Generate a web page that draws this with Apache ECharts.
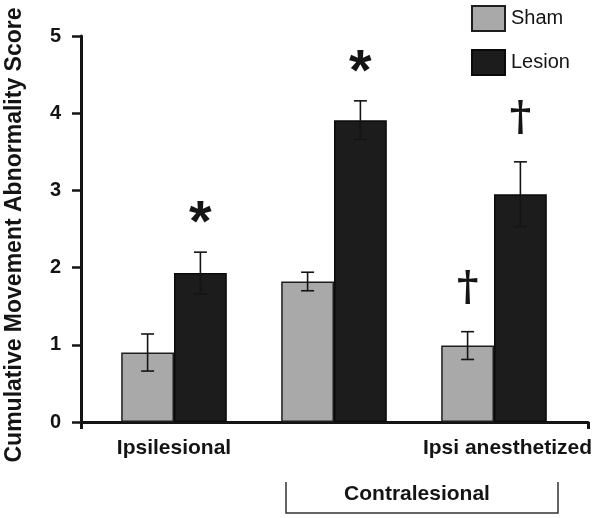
<!DOCTYPE html>
<html>
<head>
<meta charset="utf-8">
<script src="https://cdn.jsdelivr.net/npm/echarts@6/dist/echarts.min.js"></script>
<style>html,body{margin:0;padding:0;background:#fff;}#c{width:600px;height:518px;}</style>
</head>
<body>
<div id="c"></div>
<script>
const categories = ['Ipsilesional', '', 'Ipsi anesthetized'];
const seriesNames = ['Sham', 'Lesion'];
const shamMean = [0.90, 1.82, 0.99];
const shamErr = [0.24, 0.12, 0.18];
const lesionMean = [1.93, 3.91, 2.95];
const lesionErr = [0.27, 0.25, 0.42];
const shamMarks = ['', '', '\u2020'];
const lesionMarks = ['*', '*', '\u2020'];
const yTickLabels = ['0', '1', '2', '3', '4', '5'];
const groupLabel = 'Contralesional';
const yTitle = 'Cumulative Movement Abnormality Score';

const GAP = 0.34;
const INK = '#141414';

function errRender(side, marks) {
  return function (params, api) {
    const ci = api.value(0), mean = api.value(1), err = api.value(2);
    const band = api.size([1, 0])[0];
    const barW = band * (1 - GAP) / 2;
    const c = api.coord([ci, mean]);
    const x = c[0] + side * barW / 2;
    const top = api.coord([ci, mean + err])[1];
    const bot = api.coord([ci, mean - err])[1];
    const cap = 6.5;
    const st = { stroke: INK, lineWidth: 1.6 };
    const ch = [
      { type: 'line', shape: { x1: x, y1: top, x2: x, y2: bot }, style: st },
      { type: 'line', shape: { x1: x - cap, y1: top, x2: x + cap, y2: top }, style: st },
      { type: 'line', shape: { x1: x - cap, y1: bot, x2: x + cap, y2: bot }, style: st }
    ];
    const m = marks[params.dataIndex];
    if (m === '*') {
      ch.push({ type: 'text', style: { text: m, x: x, y: top - 36 + 9, align: 'center', verticalAlign: 'middle',
        font: 'bold 58px "Liberation Sans", Arial, sans-serif', fill: INK } });
    } else if (m) {
      ch.push({ type: 'text', style: { text: m, x: x, y: top - 22, align: 'center', verticalAlign: 'bottom',
        font: 'bold 41px "DejaVu Serif", serif', fill: INK } });
    }
    return { type: 'group', children: ch };
  };
}

const chart = echarts.init(document.getElementById('c'), null, { renderer: 'canvas' });
chart.setOption({
  animation: false,
  backgroundColor: '#fff',
  textStyle: { fontFamily: '"Liberation Sans", Arial, sans-serif' },
  legend: {
    data: seriesNames,
    orient: 'vertical',
    left: 471, top: 5, padding: 0,
    itemWidth: 33, itemHeight: 25, itemGap: 17,
    icon: 'rect',
    textStyle: { fontSize: 20, color: INK, padding: [0, 0, 0, 1] }
  },
  grid: [
    { left: 94, right: 26, top: 36, bottom: 96 },
    { left: 81, right: 12, top: 36, bottom: 96 }
  ],
  xAxis: [
    {
      type: 'category', gridIndex: 0,
      data: categories.map((c, i) => i === 2 ? { value: c, textStyle: { padding: [0, 0, 0, 27] } } : c),
      axisLine: { show: false }, axisTick: { show: false },
      axisLabel: { fontSize: 21, fontWeight: 'bold', color: INK, margin: 16, interval: 0 }
    },
    {
      type: 'value', gridIndex: 1, min: 0, max: 1, interval: 1,
      axisLine: { show: true, lineStyle: { color: INK, width: 3 } },
      axisTick: { show: true, length: 7, lineStyle: { color: INK, width: 3 } },
      axisLabel: { show: false }, splitLine: { show: false }
    }
  ],
  yAxis: [
    {
      type: 'value', gridIndex: 0, min: 0, max: 5, interval: 1, offset: 13,
      axisLine: { show: true, lineStyle: { color: INK, width: 3 } },
      axisTick: { show: true, length: 9, lineStyle: { color: INK, width: 2.5 } },
      axisLabel: { fontSize: 20, fontWeight: 'bold', color: INK, margin: 20, formatter: v => yTickLabels[v] },
      splitLine: { show: false }
    },
    { type: 'value', gridIndex: 1, min: 0, max: 5, show: false }
  ],
  series: [
    {
      name: seriesNames[0], type: 'bar', xAxisIndex: 0, yAxisIndex: 0,
      data: shamMean, barGap: '0%', barCategoryGap: (GAP * 100) + '%',
      itemStyle: { color: '#a9a9a9', borderColor: '#1e1e1e', borderWidth: 1.5 }
    },
    {
      name: seriesNames[1], type: 'bar', xAxisIndex: 0, yAxisIndex: 0,
      data: lesionMean, barGap: '0%', barCategoryGap: (GAP * 100) + '%',
      itemStyle: { color: '#1c1c1c', borderColor: '#0a0a0a', borderWidth: 1.5 }
    },
    {
      type: 'custom', xAxisIndex: 0, yAxisIndex: 0, z: 5,
      renderItem: errRender(-1, shamMarks),
      data: shamMean.map((v, i) => [i, v, shamErr[i]])
    },
    {
      type: 'custom', xAxisIndex: 0, yAxisIndex: 0, z: 5,
      renderItem: errRender(1, lesionMarks),
      data: lesionMean.map((v, i) => [i, v, lesionErr[i]])
    }
  ],
  graphic: [
    {
      type: 'text', silent: true, x: 15, y: 235, rotation: Math.PI / 2,
      style: { text: yTitle, align: 'center', verticalAlign: 'middle',
        font: 'bold 23px "Liberation Sans", Arial, sans-serif', fill: INK }
    },
    {
      type: 'polyline', silent: true,
      shape: { points: [[286, 482], [286, 513], [558, 513], [558, 482]] },
      style: { stroke: '#333', lineWidth: 1.5, fill: null }
    },
    {
      type: 'text', silent: true, x: 417, y: 494,
      style: { text: groupLabel, align: 'center', verticalAlign: 'middle',
        font: 'bold 21px "Liberation Sans", Arial, sans-serif', fill: INK }
    }
  ]
});
</script>
</body>
</html>
